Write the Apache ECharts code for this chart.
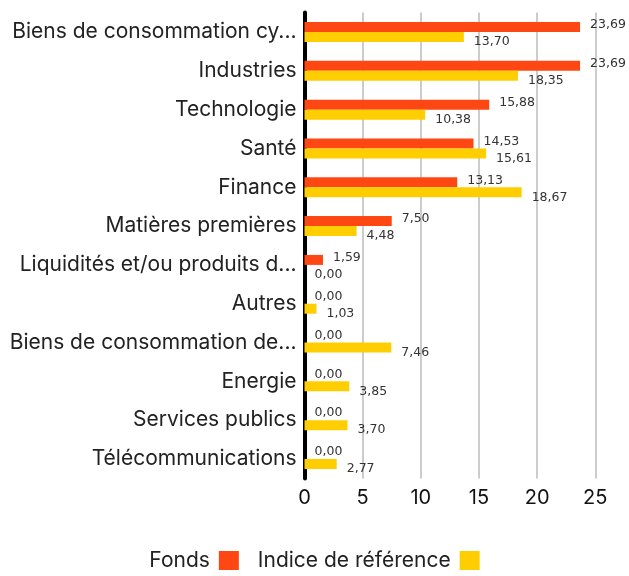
<!DOCTYPE html>
<html><head><meta charset="utf-8">
<script src="https://cdn.jsdelivr.net/npm/echarts@6/dist/echarts.min.js"></script>
<style>html,body{margin:0;padding:0;background:#fff}#c{width:629px;height:576px}</style>
</head><body><div id="c"></div>
<script>
const categories = ["Biens de consommation cy...","Industries","Technologie","Santé","Finance","Matières premières","Liquidités et/ou produits d...","Autres","Biens de consommation de...","Energie","Services publics","Télécommunications"];
const fondsValues = [23.69,23.69,15.88,14.53,13.13,7.50,1.59,0.00,0.00,0.00,0.00,0.00];
const indiceValues = [13.70,18.35,10.38,15.61,18.67,4.48,0.00,1.03,7.46,3.85,3.70,2.77];
const xTicks = [0,5,10,15,20,25];
const seriesNames = ["Fonds","Indice de référence"];

const FONT = "Inter";
const WIDE = "DejaVu Sans";
const fmt = v => v.toFixed(2).replace('.', ',');
const chart = echarts.init(document.getElementById('c'), null, {renderer:'canvas'});
chart.setOption({
  animation:false,
  textStyle:{fontFamily:FONT},
  grid:{left:304.5, right:33.7, top:12.6, bottom:97.6, containLabel:false},
  legend:{
    top:550, left:'center', align:'right', icon:'rect', itemWidth:20, itemHeight:19, itemGap:19,
    padding:0,
    textStyle:{fontFamily:FONT, fontSize:21, color:'#222', padding:[0,4,0,0]},
    data:seriesNames
  },
  xAxis:{
    type:'value', min:xTicks[0], max:xTicks[xTicks.length-1], interval:5,
    axisLine:{show:false}, axisTick:{show:false},
    splitLine:{show:true, lineStyle:{color:'#cccccc', width:2}},
    axisLabel:{fontFamily:FONT, fontSize:20, color:'#111', margin:10}
  },
  yAxis:{
    type:'category', inverse:true, data:categories,
    axisLine:{show:true, lineStyle:{color:'#000', width:4}},
    axisTick:{show:false},
    axisLabel:{fontFamily:FONT, fontSize:21, color:'#222', margin:8}
  },
  series:[
    {name:seriesNames[0], type:'bar', data:fondsValues, barWidth:10, barGap:'0%',
     itemStyle:{color:'#FF4713'},
     label:{show:true, position:'right', distance:10, offset:[0,-2], formatter:p=>fmt(p.value),
            fontFamily:WIDE, fontSize:12.5, color:'#333'}},
    {name:seriesNames[1], type:'bar', data:indiceValues, barWidth:10, barGap:'0%',
     itemStyle:{color:'#FFCE00'},
     label:{show:true, position:'right', distance:10, offset:[0,5], formatter:p=>fmt(p.value),
            fontFamily:WIDE, fontSize:12.5, color:'#333'}}
  ]
});
</script></body></html>
